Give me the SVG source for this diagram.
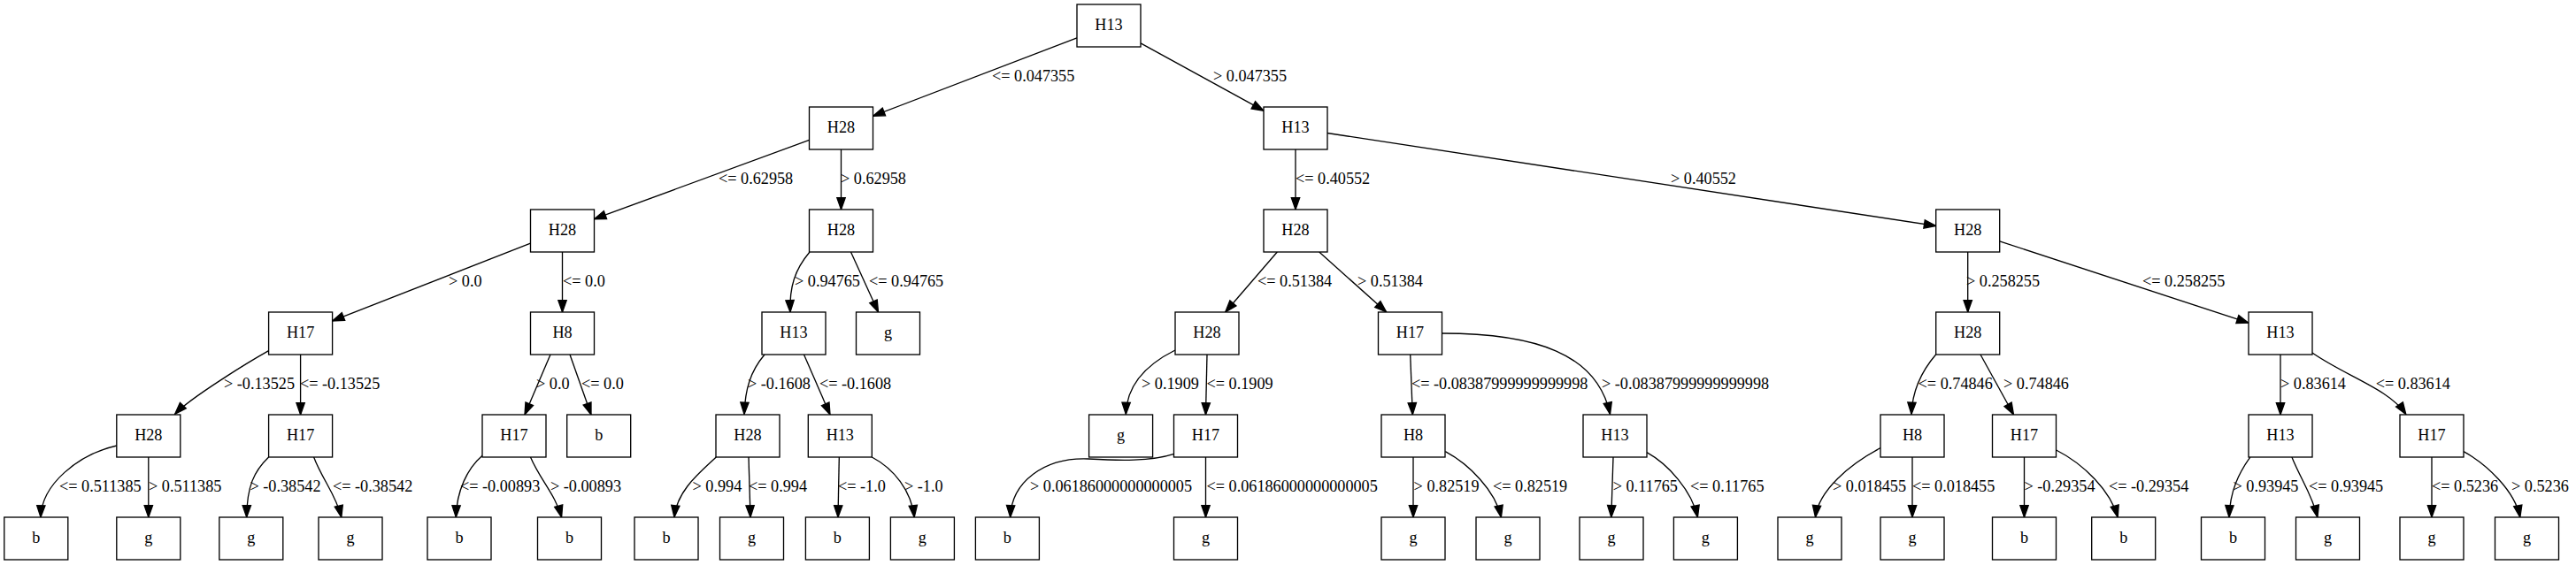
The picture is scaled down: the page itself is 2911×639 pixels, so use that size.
<svg xmlns="http://www.w3.org/2000/svg" width="2911" height="639" viewBox="0 0 2911 639">
<style>
.n rect{fill:#fff;stroke:#000;stroke-width:1.33}
.n text{font-family:"Liberation Serif","Times New Roman",serif;font-size:18.2px;text-anchor:middle;fill:#000}
#edges path{fill:none;stroke:#000;stroke-width:1.33;marker-end:url(#arr)}
#labels text{font-family:"Liberation Serif","Times New Roman",serif;font-size:18.2px;fill:#000}
</style>
<defs>
<marker id="arr" markerUnits="userSpaceOnUse" markerWidth="16" markerHeight="12" refX="13.3" refY="4.67" orient="auto" overflow="visible"><path d="M0,0 L13.3,4.67 L0,9.33 z" fill="#000" stroke="#000" stroke-width="1.33"/></marker>
</defs>
<rect width="2911" height="639" fill="#fff"/>
<g id="edges">
<path d="M1217,42.8 L986.5,131.2"/>
<path d="M1289,48.8 L1428,125.2"/>
<path d="M914.5,158.3 L671.5,247.7"/>
<path d="M950.5,169 L950.5,237"/>
<path d="M1464,169 L1464,237"/>
<path d="M1500,150.5 L2187.7,255.5"/>
<path d="M599.5,275.1 L375.6,362.9"/>
<path d="M635.5,285 L635.5,353"/>
<path d="M915,285 C898,305 892,325 893,353"/>
<path d="M961.5,285 L992.5,353"/>
<path d="M1443.3,285 L1384.7,353"/>
<path d="M1490.8,285 L1566.7,353"/>
<path d="M2223.7,285 L2223.7,353"/>
<path d="M2259.7,272.8 L2541,365.2"/>
<path d="M303.6,396.7 C280,410 215,450 197.7,468.3"/>
<path d="M339.6,401 L339.6,469"/>
<path d="M622,401 L593,469"/>
<path d="M644,401 L668,469"/>
<path d="M864,401 C848,420 842,440 841,468.5"/>
<path d="M908.5,401 L938,469"/>
<path d="M1328,396 C1290,415 1273,440 1272.3,468.5"/>
<path d="M1364,401 L1362.5,469"/>
<path d="M1593.7,401 L1596.3,469"/>
<path d="M1629.5,377 C1735,377 1805,400 1819.5,468.5"/>
<path d="M2187.6,401 C2173,418 2161,440 2160,468.5"/>
<path d="M2238,401 L2275.5,469"/>
<path d="M2577,401 L2577,469"/>
<path d="M2613,399 C2650,425 2700,440 2718.8,468.5"/>
<path d="M132,504 C88,514 47,548 46,585"/>
<path d="M167.8,517 L167.8,585"/>
<path d="M303.6,517 C287,533 279,550 278.7,585"/>
<path d="M354.6,517 C364,542 380,560 385.8,585"/>
<path d="M545.3,515 C528,530 516,555 515.3,585"/>
<path d="M599.5,517 C610,542 628,560 634.6,585"/>
<path d="M809.3,517 C790,535 765,555 762,585"/>
<path d="M846,517 L848,585"/>
<path d="M948.3,517 L947,585"/>
<path d="M985.3,517 C1010,530 1030,555 1033.2,585"/>
<path d="M1326.7,513.3 C1300,522 1265,521 1230,519 C1180,517 1143,545 1141.7,585"/>
<path d="M1362.5,517 L1362.5,585"/>
<path d="M1597,517 L1597,585"/>
<path d="M1633.3,510.7 C1660,525 1690,555 1696.4,585"/>
<path d="M1823,517 L1820.8,585"/>
<path d="M1861,511.7 C1885,525 1912,555 1918.4,585"/>
<path d="M2125,506.7 C2090,525 2055,555 2051.5,585"/>
<path d="M2161,517 L2161,585"/>
<path d="M2287.5,517 L2287.5,585"/>
<path d="M2323.6,509 C2355,525 2385,555 2393.2,585"/>
<path d="M2542.8,517 C2530,535 2520,555 2519,585"/>
<path d="M2589.9,517 C2600,542 2613,560 2618.9,585"/>
<path d="M2748,517 L2748,585"/>
<path d="M2784,510.7 C2810,525 2842,555 2847.8,585"/>
</g>
<g id="labels">
<text x="1121" y="92">&lt;= 0.047355</text>
<text x="1371" y="92">&gt; 0.047355</text>
<text x="812" y="208">&lt;= 0.62958</text>
<text x="950" y="208">&gt; 0.62958</text>
<text x="1464" y="208">&lt;= 0.40552</text>
<text x="1888" y="208">&gt; 0.40552</text>
<text x="507" y="324">&gt; 0.0</text>
<text x="636" y="324">&lt;= 0.0</text>
<text x="898" y="324">&gt; 0.94765</text>
<text x="982" y="324">&lt;= 0.94765</text>
<text x="1421" y="324">&lt;= 0.51384</text>
<text x="1534" y="324">&gt; 0.51384</text>
<text x="2222" y="324">&gt; 0.258255</text>
<text x="2421" y="324">&lt;= 0.258255</text>
<text x="253" y="440">&gt; -0.13525</text>
<text x="339" y="440">&lt;= -0.13525</text>
<text x="606" y="440">&gt; 0.0</text>
<text x="657" y="440">&lt;= 0.0</text>
<text x="845" y="440">&gt; -0.1608</text>
<text x="926" y="440">&lt;= -0.1608</text>
<text x="1290" y="440">&gt; 0.1909</text>
<text x="1363.5" y="440">&lt;= 0.1909</text>
<text x="1595" y="440">&lt;= -0.08387999999999998</text>
<text x="1810" y="440">&gt; -0.08387999999999998</text>
<text x="2167.6" y="440">&lt;= 0.74846</text>
<text x="2264" y="440">&gt; 0.74846</text>
<text x="2577" y="440">&gt; 0.83614</text>
<text x="2684.7" y="440">&lt;= 0.83614</text>
<text x="67" y="556">&lt;= 0.511385</text>
<text x="168" y="556">&gt; 0.511385</text>
<text x="282.5" y="556">&gt; -0.38542</text>
<text x="376" y="556">&lt;= -0.38542</text>
<text x="520" y="556">&lt;= -0.00893</text>
<text x="622" y="556">&gt; -0.00893</text>
<text x="782.5" y="556">&gt; 0.994</text>
<text x="846" y="556">&lt;= 0.994</text>
<text x="947" y="556">&lt;= -1.0</text>
<text x="1022" y="556">&gt; -1.0</text>
<text x="1164" y="556">&gt; 0.06186000000000005</text>
<text x="1363.5" y="556">&lt;= 0.06186000000000005</text>
<text x="1597.6" y="556">&gt; 0.82519</text>
<text x="1687" y="556">&lt;= 0.82519</text>
<text x="1822.7" y="556">&gt; 0.11765</text>
<text x="1910" y="556">&lt;= 0.11765</text>
<text x="2071" y="556">&gt; 0.018455</text>
<text x="2161" y="556">&lt;= 0.018455</text>
<text x="2287.5" y="556">&gt; -0.29354</text>
<text x="2383" y="556">&lt;= -0.29354</text>
<text x="2523.5" y="556">&gt; 0.93945</text>
<text x="2609" y="556">&lt;= 0.93945</text>
<text x="2748" y="556">&lt;= 0.5236</text>
<text x="2838" y="556">&gt; 0.5236</text>
</g>
<g id="n0" class="n"><rect x="1217" y="5" width="72" height="48"/><text x="1253" y="34">H13</text></g>
<g id="n1" class="n"><rect x="914.5" y="121" width="72" height="48"/><text x="950.5" y="150">H28</text></g>
<g id="n2" class="n"><rect x="1428" y="121" width="72" height="48"/><text x="1464" y="150">H13</text></g>
<g id="n3" class="n"><rect x="599.5" y="237" width="72" height="48"/><text x="635.5" y="266">H28</text></g>
<g id="n4" class="n"><rect x="914.5" y="237" width="72" height="48"/><text x="950.5" y="266">H28</text></g>
<g id="n5" class="n"><rect x="1428" y="237" width="72" height="48"/><text x="1464" y="266">H28</text></g>
<g id="n6" class="n"><rect x="2187.7" y="237" width="72" height="48"/><text x="2223.7" y="266">H28</text></g>
<g id="n7" class="n"><rect x="303.6" y="353" width="72" height="48"/><text x="339.6" y="382">H17</text></g>
<g id="n8" class="n"><rect x="599.5" y="353" width="72" height="48"/><text x="635.5" y="382">H8</text></g>
<g id="n9" class="n"><rect x="861" y="353" width="72" height="48"/><text x="897" y="382">H13</text></g>
<g id="n10" class="n"><rect x="967.5" y="353" width="72" height="48"/><text x="1003.5" y="382">g</text></g>
<g id="n11" class="n"><rect x="1328" y="353" width="72" height="48"/><text x="1364" y="382">H28</text></g>
<g id="n12" class="n"><rect x="1557.5" y="353" width="72" height="48"/><text x="1593.5" y="382">H17</text></g>
<g id="n13" class="n"><rect x="2187.7" y="353" width="72" height="48"/><text x="2223.7" y="382">H28</text></g>
<g id="n14" class="n"><rect x="2541" y="353" width="72" height="48"/><text x="2577" y="382">H13</text></g>
<g id="n15" class="n"><rect x="131.8" y="469" width="72" height="48"/><text x="167.8" y="498">H28</text></g>
<g id="n16" class="n"><rect x="303.6" y="469" width="72" height="48"/><text x="339.6" y="498">H17</text></g>
<g id="n17" class="n"><rect x="545" y="469" width="72" height="48"/><text x="581" y="498">H17</text></g>
<g id="n18" class="n"><rect x="640.7" y="469" width="72" height="48"/><text x="676.7" y="498">b</text></g>
<g id="n19" class="n"><rect x="809" y="469" width="72" height="48"/><text x="845" y="498">H28</text></g>
<g id="n20" class="n"><rect x="913.3" y="469" width="72" height="48"/><text x="949.3" y="498">H13</text></g>
<g id="n21" class="n"><rect x="1230.6" y="469" width="72" height="48"/><text x="1266.6" y="498">g</text></g>
<g id="n22" class="n"><rect x="1326.5" y="469" width="72" height="48"/><text x="1362.5" y="498">H17</text></g>
<g id="n23" class="n"><rect x="1561" y="469" width="72" height="48"/><text x="1597" y="498">H8</text></g>
<g id="n24" class="n"><rect x="1789" y="469" width="72" height="48"/><text x="1825" y="498">H13</text></g>
<g id="n25" class="n"><rect x="2125" y="469" width="72" height="48"/><text x="2161" y="498">H8</text></g>
<g id="n26" class="n"><rect x="2251.5" y="469" width="72" height="48"/><text x="2287.5" y="498">H17</text></g>
<g id="n27" class="n"><rect x="2541" y="469" width="72" height="48"/><text x="2577" y="498">H13</text></g>
<g id="n28" class="n"><rect x="2712" y="469" width="72" height="48"/><text x="2748" y="498">H17</text></g>
<g id="n29" class="n"><rect x="4.8" y="585" width="72" height="48"/><text x="40.8" y="614">b</text></g>
<g id="n30" class="n"><rect x="131.8" y="585" width="72" height="48"/><text x="167.8" y="614">g</text></g>
<g id="n31" class="n"><rect x="247.8" y="585" width="72" height="48"/><text x="283.8" y="614">g</text></g>
<g id="n32" class="n"><rect x="360" y="585" width="72" height="48"/><text x="396" y="614">g</text></g>
<g id="n33" class="n"><rect x="483" y="585" width="72" height="48"/><text x="519" y="614">b</text></g>
<g id="n34" class="n"><rect x="607.5" y="585" width="72" height="48"/><text x="643.5" y="614">b</text></g>
<g id="n35" class="n"><rect x="717" y="585" width="72" height="48"/><text x="753" y="614">b</text></g>
<g id="n36" class="n"><rect x="813.5" y="585" width="72" height="48"/><text x="849.5" y="614">g</text></g>
<g id="n37" class="n"><rect x="910.4" y="585" width="72" height="48"/><text x="946.4" y="614">b</text></g>
<g id="n38" class="n"><rect x="1006.4" y="585" width="72" height="48"/><text x="1042.4" y="614">g</text></g>
<g id="n39" class="n"><rect x="1102.4" y="585" width="72" height="48"/><text x="1138.4" y="614">b</text></g>
<g id="n40" class="n"><rect x="1326.5" y="585" width="72" height="48"/><text x="1362.5" y="614">g</text></g>
<g id="n41" class="n"><rect x="1561" y="585" width="72" height="48"/><text x="1597" y="614">g</text></g>
<g id="n42" class="n"><rect x="1668" y="585" width="72" height="48"/><text x="1704" y="614">g</text></g>
<g id="n43" class="n"><rect x="1785" y="585" width="72" height="48"/><text x="1821" y="614">g</text></g>
<g id="n44" class="n"><rect x="1891.4" y="585" width="72" height="48"/><text x="1927.4" y="614">g</text></g>
<g id="n45" class="n"><rect x="2009" y="585" width="72" height="48"/><text x="2045" y="614">g</text></g>
<g id="n46" class="n"><rect x="2125" y="585" width="72" height="48"/><text x="2161" y="614">g</text></g>
<g id="n47" class="n"><rect x="2251.5" y="585" width="72" height="48"/><text x="2287.5" y="614">b</text></g>
<g id="n48" class="n"><rect x="2363.7" y="585" width="72" height="48"/><text x="2399.7" y="614">b</text></g>
<g id="n49" class="n"><rect x="2487.5" y="585" width="72" height="48"/><text x="2523.5" y="614">b</text></g>
<g id="n50" class="n"><rect x="2594.5" y="585" width="72" height="48"/><text x="2630.5" y="614">g</text></g>
<g id="n51" class="n"><rect x="2712" y="585" width="72" height="48"/><text x="2748" y="614">g</text></g>
<g id="n52" class="n"><rect x="2819.5" y="585" width="72" height="48"/><text x="2855.5" y="614">g</text></g>
</svg>
